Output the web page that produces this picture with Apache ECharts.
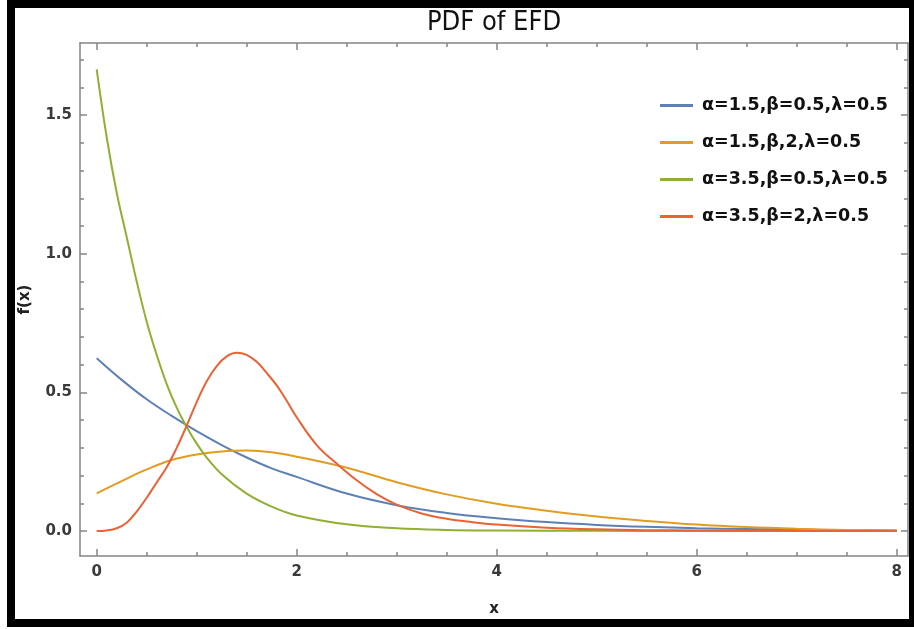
<!DOCTYPE html>
<html>
<head>
<meta charset="utf-8">
<script src="https://cdn.jsdelivr.net/npm/echarts@6/dist/echarts.min.js"></script>
<style>
html,body{margin:0;padding:0;background:#fff;}
#chart{width:914px;height:629px;}
</style>
</head>
<body>
<div id="chart"></div>
<script>
// ---- data ----
var seriesNames = ['α=1.5,β=0.5,λ=0.5', 'α=1.5,β,2,λ=0.5', 'α=3.5,β=0.5,λ=0.5', 'α=3.5,β=2,λ=0.5'];

var blueX = [0,0.25,0.5,0.75,1,1.25,1.5,1.75,2,2.5,3,3.5,4,4.5,5,5.5,6,6.5,7,7.5,8];
var blueY = [0.623,0.545,0.475,0.415,0.36,0.31,0.265,0.226,0.195,0.135,0.093,0.065,0.046,0.032,0.022,0.015,0.010,0.007,0.005,0.003,0.002];

var orangeX = [0,0.25,0.5,0.75,1,1.25,1.5,1.75,2,2.5,3,3.5,4,4.5,5,5.5,6,6.5,7,7.5,8];
var orangeY = [0.136,0.18,0.222,0.256,0.276,0.287,0.29,0.284,0.268,0.228,0.176,0.132,0.098,0.073,0.052,0.036,0.023,0.014,0.008,0.004,0.002];

var greenX = [0,0.1,0.2,0.3,0.4,0.5,0.6,0.7,0.8,0.9,1.0,1.1,1.25,1.5,1.75,2,2.5,3,3.5,4,5,6,7,8];
var greenY = [1.665,1.42,1.22,1.06,0.90,0.755,0.635,0.53,0.445,0.375,0.315,0.265,0.205,0.135,0.088,0.056,0.024,0.010,0.004,0.002,0.0005,0.0001,0,0];

var redX = [0,0.1,0.2,0.3,0.4,0.5,0.6,0.7,0.8,0.9,1.0,1.1,1.2,1.3,1.4,1.5,1.6,1.7,1.8,1.9,2.0,2.2,2.4,2.6,2.8,3.0,3.25,3.5,3.75,4.0,4.5,5,5.5,6,7,8];
var redY = [0,0.002,0.01,0.03,0.07,0.12,0.175,0.23,0.3,0.38,0.465,0.54,0.595,0.63,0.643,0.635,0.61,0.57,0.525,0.47,0.41,0.31,0.243,0.183,0.133,0.095,0.063,0.044,0.032,0.023,0.012,0.006,0.003,0.002,0.0005,0];

var xMajor = [0,2,4,6,8];
var xMinor = [0.5,1,1.5,2.5,3,3.5,4.5,5,5.5,6.5,7,7.5];
var yMajor = [0,0.5,1.0,1.5];
var yMinor = [0.1,0.2,0.3,0.4,0.6,0.7,0.8,0.9,1.1,1.2,1.3,1.4,1.6,1.7];

var colors = ['#5E81B5', '#E19C24', '#8FB032', '#EB6235'];

// ---- chart ----
function pairs(xs, ys){ return xs.map(function(x,i){ return [x, ys[i]]; }); }

var X_MIN = -0.167, X_MAX = 8.113, Y_MIN = -0.0902, Y_MAX = 1.76;
var frameColor = '#858585';
var FONT = 'DejaVu Sans, Liberation Sans, Arial, sans-serif';
var labelFont = {color:'#3a3a3a', fontWeight:'bold', fontSize:15, fontFamily:FONT};

function xAxisDef(grid, pos, ticks, len, showLine, showLabel){
  return {
    type:'value', gridIndex:grid, position:pos, min:X_MIN, max:X_MAX,
    axisLine:{show:showLine, onZero:false, lineStyle:{color:frameColor, width:1.5}},
    axisTick:{show:true, inside:true, length:len, customValues:ticks, lineStyle:{color:frameColor, width:1.5}},
    axisLabel:Object.assign({show:showLabel, customValues:ticks, margin:9, formatter:function(v){return String(v);}}, labelFont),
    splitLine:{show:false}
  };
}
function yAxisDef(grid, pos, ticks, len, showLine, showLabel){
  return {
    type:'value', gridIndex:grid, position:pos, min:Y_MIN, max:Y_MAX,
    axisLine:{show:showLine, onZero:false, lineStyle:{color:frameColor, width:1.5}},
    axisTick:{show:true, inside:true, length:len, customValues:ticks, lineStyle:{color:frameColor, width:1.5}},
    axisLabel:Object.assign({show:showLabel, customValues:ticks, margin:8, formatter:function(v){return v.toFixed(1);}}, labelFont),
    splitLine:{show:false}
  };
}

var gridRect = {left:80, top:43, width:828, height:513};

var xData = [[blueX,blueY],[orangeX,orangeY],[greenX,greenY],[redX,redY]];

var option = {
  animation:false,
  backgroundColor:'#fff',
  grid:[Object.assign({}, gridRect), Object.assign({}, gridRect)],
  xAxis:[
    Object.assign(xAxisDef(0,'bottom',xMajor,7,true,true), {name:'x', nameLocation:'middle', nameGap:46, nameTextStyle:{color:'#222', fontWeight:'bold', fontSize:15, fontFamily:FONT}}),
    xAxisDef(0,'top',xMajor,7,true,false),
    xAxisDef(1,'bottom',xMinor,4,false,false),
    xAxisDef(1,'top',xMinor,4,false,false)
  ],
  yAxis:[
    Object.assign(yAxisDef(0,'left',yMajor,7,true,true), {name:'f(x)', nameLocation:'middle', nameGap:47, nameRotate:90, nameTextStyle:{color:'#222', fontWeight:'bold', fontSize:15, fontFamily:FONT}}),
    yAxisDef(0,'right',yMajor,7,true,false),
    yAxisDef(1,'left',yMinor,4,false,false),
    yAxisDef(1,'right',yMinor,4,false,false)
  ],
  legend:{
    show:true, orient:'vertical', left:655, top:90,
    itemWidth:33, itemHeight:3, itemGap:16, icon:'rect',
    textStyle:{color:'#111', fontWeight:'bold', fontSize:17.5, lineHeight:21, fontFamily:FONT, padding:[0,0,0,4]},
    data:seriesNames
  },
  series: xData.map(function(d,i){
    return {
      name:seriesNames[i], type:'line', xAxisIndex:0, yAxisIndex:0,
      data:pairs(d[0], d[1]), showSymbol:false, symbol:'none',
      smooth:0.4,
      lineStyle:{color:colors[i], width:2},
      itemStyle:{color:colors[i]}
    };
  }),
  graphic:[
    {type:'text', x:494, y:23, style:{text:'PDF of EFD', textAlign:'center', textVerticalAlign:'middle', fill:'#111', fontSize:27, fontFamily:'DejaVu Sans Condensed, Liberation Sans Narrow, Liberation Sans, sans-serif'}},
    {type:'rect', shape:{x:11, y:4, width:902, height:619}, style:{fill:null, stroke:'#000', lineWidth:8}, z:100}
  ]
};

var chart = echarts.init(document.getElementById('chart'), null, {renderer:'canvas'});
chart.setOption(option);
</script>
</body>
</html>
